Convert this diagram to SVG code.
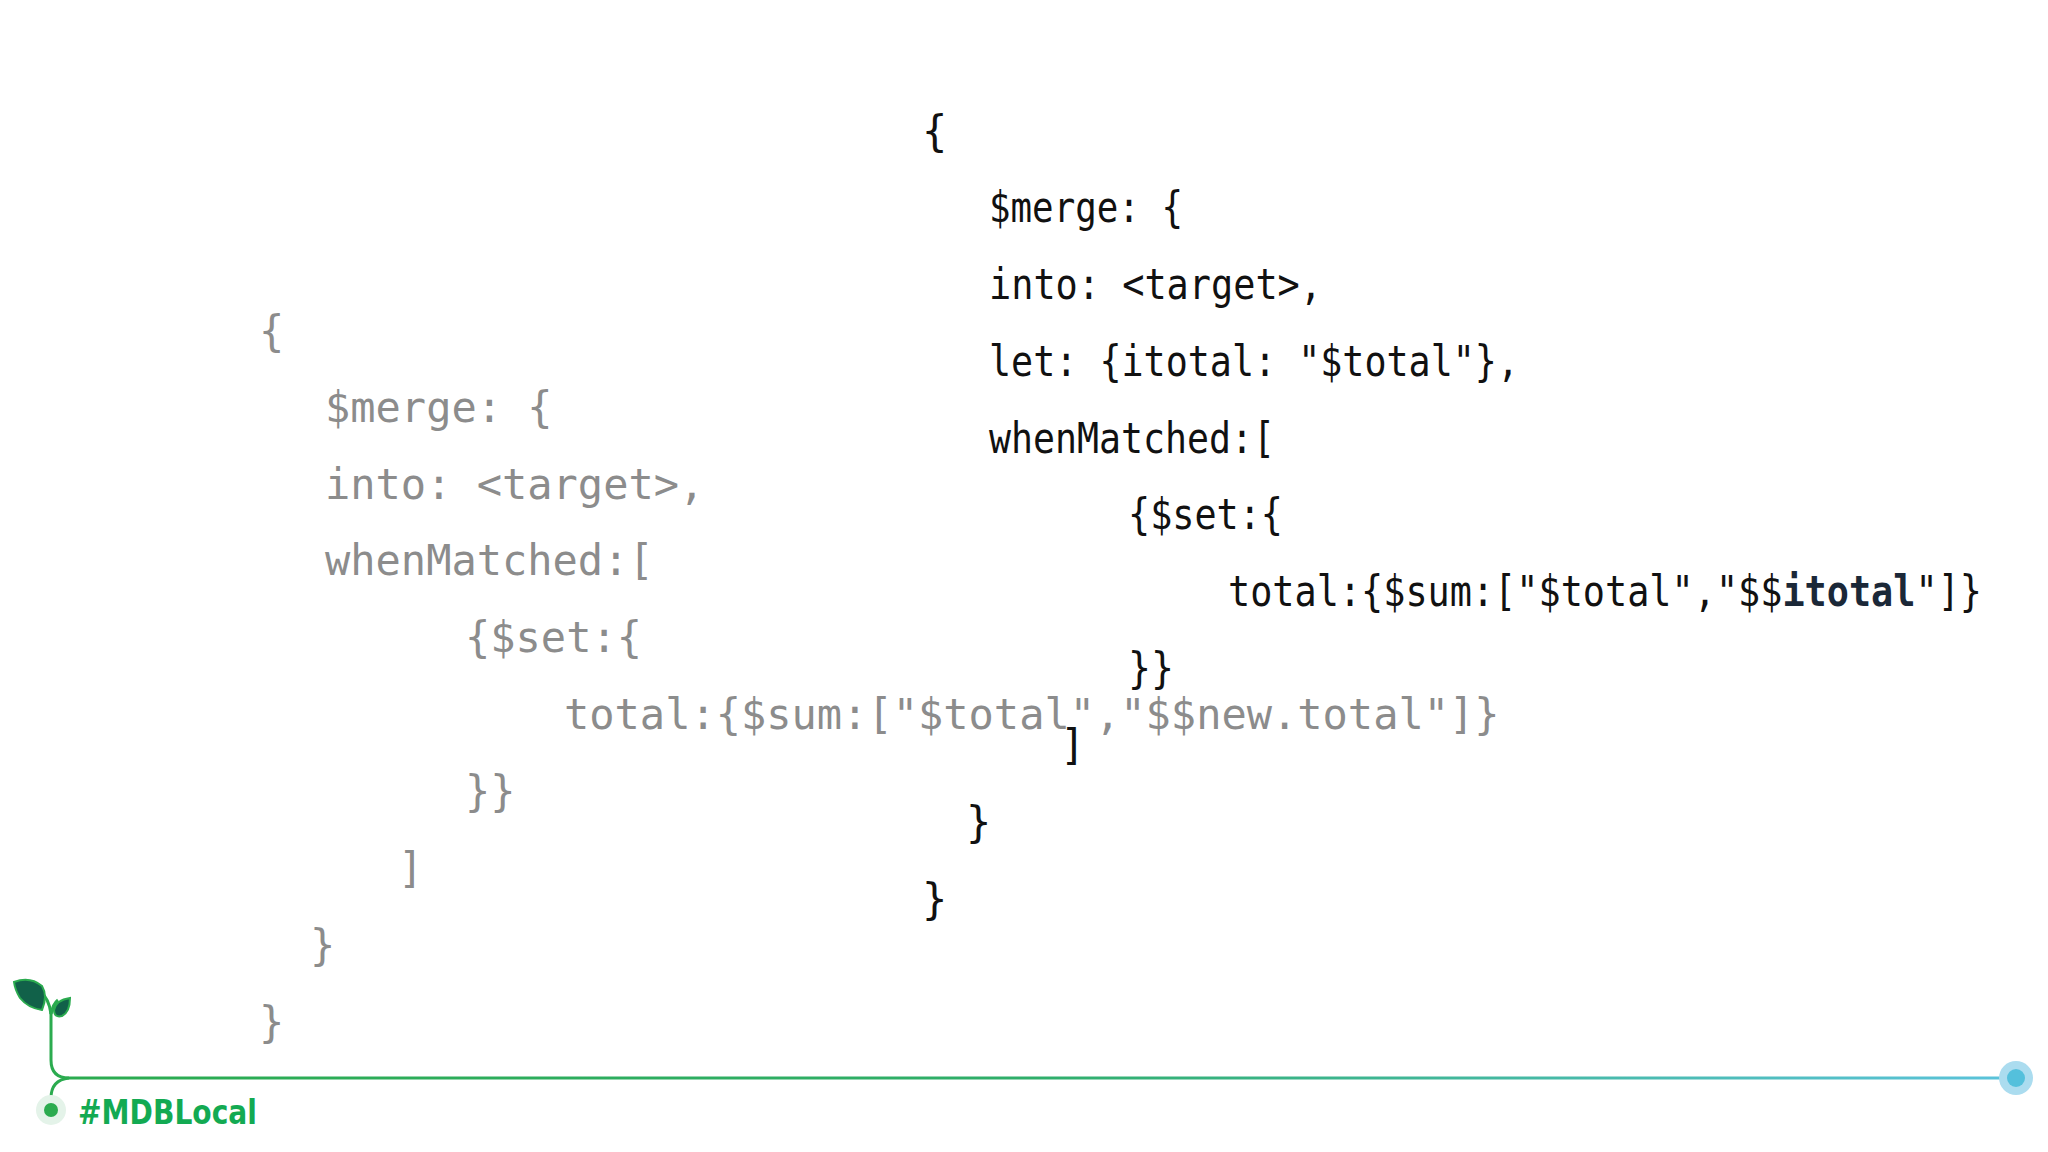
<svg xmlns="http://www.w3.org/2000/svg" width="2048" height="1152" viewBox="0 0 2048 1152">
<defs>
<linearGradient id="lg" x1="0" x2="1" y1="0" y2="0"><stop offset="0" stop-color="#2bab4f"/><stop offset="0.5" stop-color="#2fae6a"/><stop offset="1" stop-color="#5bc3dc"/></linearGradient>
<style>
.g{font-family:"DejaVu Sans Mono","Liberation Mono",monospace;font-size:42px;fill:#8c8c8c}
.b{font-family:"DejaVu Sans Mono","Liberation Mono",monospace;font-size:42px;fill:#111}
.hl{font-weight:bold;fill:#1b2838}
.leaf{fill:#116149;stroke:#2bab4f;stroke-width:2}
</style>
</defs>
<rect width="2048" height="1152" fill="#fff"/>
<g id="gray-code">
<text class="g" x="259" y="346">{</text>
<text class="g" x="325" y="422">$merge: {</text>
<text class="g" x="325" y="499">into: &lt;target&gt;,</text>
<text class="g" x="325" y="575">whenMatched:[</text>
<text class="g" x="465" y="652">{$set:{</text>
<text class="g" x="564" y="729">total:{$sum:["$total","$$new.total"]}</text>
<text class="g" x="465" y="806">}}</text>
<text class="g" x="398" y="883">]</text>
<text class="g" x="310" y="960">}</text>
<text class="g" x="259" y="1037">}</text>
</g>
<g id="black-code">
<text class="b" x="922" y="146">{</text>
<text class="b" x="989" y="222" textLength="194" lengthAdjust="spacingAndGlyphs">$merge: {</text>
<text class="b" x="989" y="299" textLength="333" lengthAdjust="spacingAndGlyphs">into: &lt;target&gt;,</text>
<text class="b" x="989" y="376" textLength="530" lengthAdjust="spacingAndGlyphs">let: {itotal: "$total"},</text>
<text class="b" x="989" y="453" textLength="286" lengthAdjust="spacingAndGlyphs">whenMatched:[</text>
<text class="b" x="1128" y="529" textLength="155" lengthAdjust="spacingAndGlyphs">{$set:{</text>
<text class="b" x="1228" y="606" textLength="754" lengthAdjust="spacingAndGlyphs">total:{$sum:["$total","$$<tspan class="hl">itotal</tspan>"]}</text>
<text class="b" x="1128" y="683" textLength="46" lengthAdjust="spacingAndGlyphs">}}</text>
<text class="b" x="1060" y="760">]</text>
<text class="b" x="966" y="837">}</text>
<text class="b" x="922" y="914">}</text>
</g>
<g id="footer">
<path d="M51,1012 V1060 Q51,1078 69,1078 H2016" fill="none" stroke="url(#lg)" stroke-width="3"/>
<path d="M69,1078 Q51,1080 51,1098 V1110" fill="none" stroke="#2bab4f" stroke-width="3"/>
<path d="M51,1014 Q49,998 40,992" fill="none" stroke="#2bab4f" stroke-width="3"/>
<path d="M51,1014 Q53,1004 58,1000" fill="none" stroke="#2bab4f" stroke-width="3"/>
<path class="leaf" d="M14,982 Q30,976 42,986 Q48,996 42,1010 Q28,1008 20,998 Q15,990 14,982 Z"/>
<path class="leaf" d="M70,998 Q70,1012 62,1016 Q54,1018 54,1010 Q56,1000 70,998 Z"/>
<circle cx="51" cy="1110" r="15" fill="#e4f3e9"/>
<circle cx="51" cy="1110" r="7" fill="#2bab4f"/>
<circle cx="2016" cy="1078" r="17" fill="#abdcef"/>
<circle cx="2016" cy="1078" r="9" fill="#54c0dc"/>
<text x="78" y="1124" font-family="'DejaVu Sans','Noto Sans',sans-serif" font-weight="bold" font-size="33" fill="#13aa52" textLength="179" lengthAdjust="spacingAndGlyphs">#MDBLocal</text>
</g>
</svg>
